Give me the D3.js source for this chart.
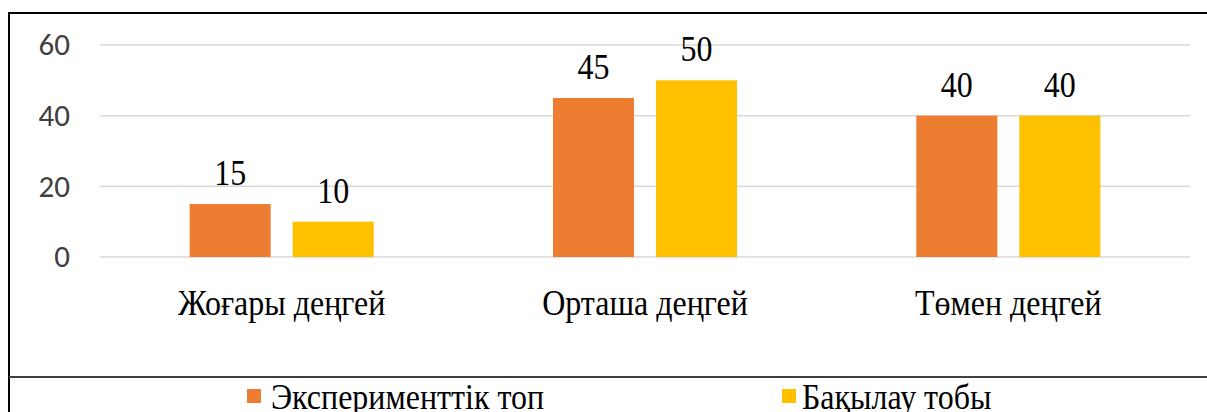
<!DOCTYPE html>
<html>
<head>
<meta charset="utf-8">
<script src="https://cdn.jsdelivr.net/npm/d3@7"></script>
<style>
  body { margin: 0; background: #fff; }
  svg { display: block; }
</style>
</head>
<body>
<script>
var width = 1207;
var height = 412;

var categories = ['Жоғары деңгей', 'Орташа деңгей', 'Төмен деңгей'];
var seriesNames = ['Эксперименттік топ', 'Бақылау тобы'];
var experimental = [15, 45, 40];
var control = [10, 50, 40];
var yTicks = [0, 20, 40, 60];
var colors = ['#ED7D31', '#FFC000'];

var data = categories.map(function(c, i) {
  return {cat: c, values: [experimental[i], control[i]]};
});

var serif = '"Liberation Serif", "Times New Roman", serif';
// serif text in the picture is slightly stretched vertically
function place(px, py) { return 'translate(' + px + ',' + py + ') scale(1,1.1)'; }

var svg = d3.select('body').append('svg')
  .attr('width', width)
  .attr('height', height);

// outer frame (cut off on right and bottom)
svg.append('line').attr('x1', 9).attr('x2', width).attr('y1', 13).attr('y2', 13)
  .attr('stroke', '#000').attr('stroke-width', 2);
svg.append('line').attr('x1', 9).attr('x2', 9).attr('y1', 12).attr('y2', height)
  .attr('stroke', '#000').attr('stroke-width', 2);
svg.append('line').attr('x1', 9).attr('x2', width).attr('y1', 377).attr('y2', 377)
  .attr('stroke', '#404040').attr('stroke-width', 2);

var x0 = d3.scaleBand()
  .domain(categories)
  .range([100, 1190])
  .padding(0);

var x1 = d3.scaleBand()
  .domain([0, 1])
  .range([0, x0.bandwidth()])
  .paddingInner(0.2136)
  .paddingOuter(0.87);

var y = d3.scaleLinear()
  .domain([0, 60])
  .range([257, 45]);

// gridlines
svg.append('g').selectAll('line')
  .data(yTicks)
  .enter().append('line')
  .attr('x1', 100).attr('x2', 1190)
  .attr('y1', function(d) { return y(d); })
  .attr('y2', function(d) { return y(d); })
  .attr('stroke', '#d9d9d9')
  .attr('stroke-width', 1.5);

// y axis labels
var yAxis = svg.append('g')
  .attr('transform', 'translate(70,0)')
  .call(d3.axisLeft(y).tickValues(yTicks).tickSize(0).tickPadding(0));
yAxis.select('.domain').remove();
yAxis.selectAll('text')
  .attr('font-family', 'Carlito, "Open Sans", sans-serif')
  .attr('font-size', 31)
  .attr('fill', '#404040');

var groups = svg.append('g').selectAll('g')
  .data(data)
  .enter().append('g')
  .attr('transform', function(d) { return 'translate(' + x0(d.cat) + ',0)'; });

groups.selectAll('rect')
  .data(function(d) { return d.values; })
  .enter().append('rect')
  .attr('x', function(d, i) { return x1(i); })
  .attr('width', x1.bandwidth())
  .attr('y', function(d) { return y(d); })
  .attr('height', function(d) { return y(0) - y(d); })
  .attr('fill', function(d, i) { return colors[i]; });

groups.selectAll('text.val')
  .data(function(d) { return d.values; })
  .enter().append('text')
  .attr('class', 'val')
  .attr('transform', function(d, i) { return place(x1(i) + x1.bandwidth() / 2, y(d) - 19); })
  .attr('text-anchor', 'middle')
  .attr('font-family', serif)
  .attr('font-size', 32)
  .attr('fill', '#000')
  .text(function(d) { return d; });

// category labels
svg.append('g').selectAll('text')
  .data(categories)
  .enter().append('text')
  .attr('transform', function(d) { return place(x0(d) + x0.bandwidth() / 2, 315); })
  .attr('text-anchor', 'middle')
  .attr('font-family', serif)
  .attr('font-size', 32)
  .attr('fill', '#000')
  .text(function(d) { return d; });

// legend
var legendX = [247, 782];
var legend = svg.append('g').selectAll('g')
  .data(seriesNames)
  .enter().append('g')
  .attr('transform', function(d, i) { return 'translate(' + legendX[i] + ',389)'; });
legend.append('rect')
  .attr('width', 14).attr('height', 14)
  .attr('fill', function(d, i) { return colors[i]; });
legend.append('text')
  .attr('transform', function(d, i) { return place(i === 0 ? 24 : 20, 20); })
  .attr('font-family', serif)
  .attr('font-size', 32)
  .attr('fill', '#000')
  .text(function(d) { return d; });
</script>
</body>
</html>
